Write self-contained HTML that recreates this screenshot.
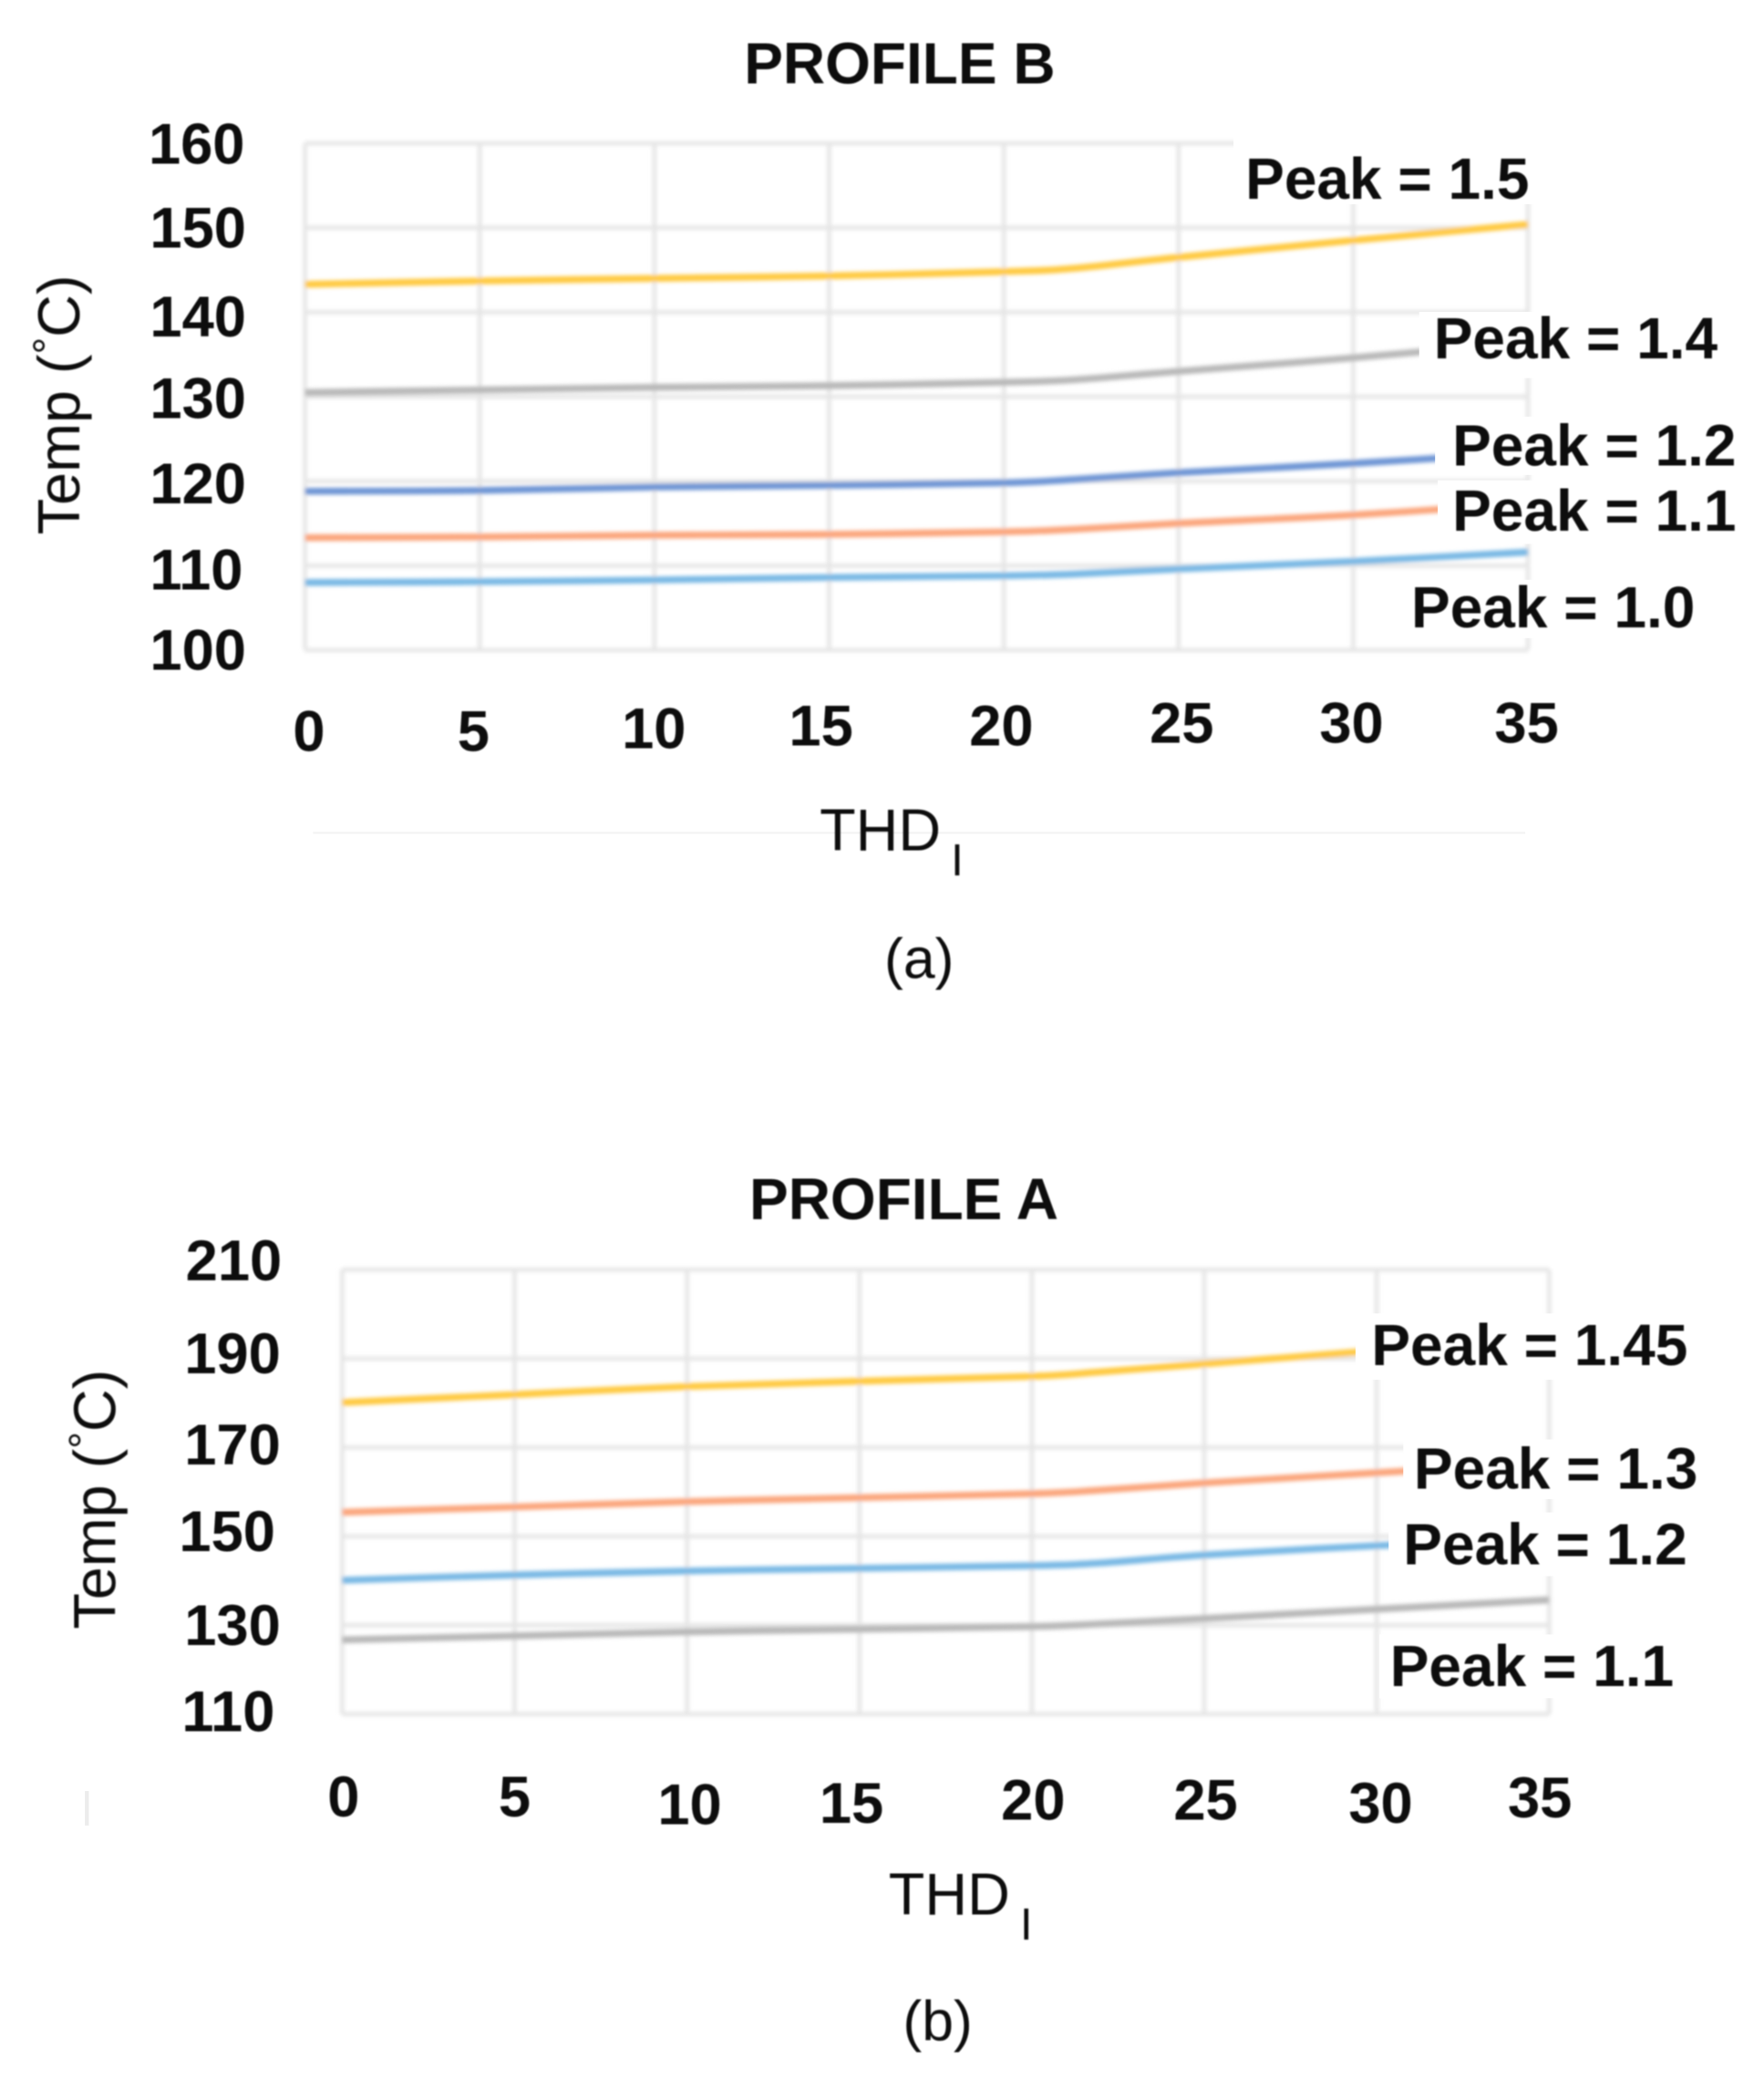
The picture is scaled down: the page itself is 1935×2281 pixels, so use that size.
<!DOCTYPE html>
<html lang="en">
<head>
<meta charset="utf-8">
<title>Profile B and Profile A temperature charts</title>
<style>
  html, body { margin: 0; padding: 0; background: #fff; }
  svg { display: block; }
  text { font-family: "Liberation Sans", sans-serif; fill: #0a0a0a; }
  .tick { font-size: 43.5px; font-weight: 700; }
  .tickx { font-size: 43.5px; font-weight: 700; text-anchor: middle; }
  .peak { font-size: 44px; font-weight: 700; }
  .title { font-size: 44px; font-weight: 700; }
  .axis { font-size: 44.5px; }
  .cap { font-size: 43px; text-anchor: middle; }
</style>
</head>
<body>
<svg xmlns="http://www.w3.org/2000/svg" width="1935" height="2281" viewBox="0 0 1935 2281">
  <defs>
    <filter id="soft" x="-5%" y="-5%" width="110%" height="110%"><feGaussianBlur stdDeviation="1.5"/></filter>
    <filter id="softText" x="-5%" y="-5%" width="110%" height="110%"><feGaussianBlur stdDeviation="0.6"/></filter>
  </defs>
  <g transform="scale(1.4549)">

    <g id="marks-a" filter="url(#soft)"></g>
    <rect x="236" y="627" width="914" height="1.5" fill="#f3f3f3"/>
    <g fill="#fff">
      <rect x="930" y="100" width="238" height="54"/>
      <rect x="1070" y="235" width="235" height="50"/>
      <rect x="1082" y="314" width="230" height="44"/>
      <rect x="1084" y="362" width="228" height="48"/>
      <rect x="1055" y="437" width="230" height="44"/>
    </g>

    <g id="marks-b" filter="url(#soft)"></g>
    <g fill="#fff">
      <rect x="1022" y="990" width="260" height="50"/>
      <rect x="1058" y="1085" width="228" height="45"/>
      <rect x="1047" y="1140" width="234" height="48"/>
      <rect x="1040" y="1232" width="226" height="48"/>
    </g>
    <rect x="64" y="1350" width="3" height="26" fill="#ececec"/>

    <g filter="url(#softText)">
      <text class="title" x="561" y="63">PROFILE B</text>
      <text class="tick" x="112" y="123.5">160</text>
      <text class="tick" x="113" y="186.5">150</text>
      <text class="tick" x="113" y="253.5">140</text>
      <text class="tick" x="113" y="315">130</text>
      <text class="tick" x="113" y="379.5">120</text>
      <text class="tick" x="113" y="444.5">110</text>
      <text class="tick" x="113" y="505">100</text>
      <text class="tickx" x="233" y="566">0</text>
      <text class="tickx" x="357" y="566">5</text>
      <text class="tickx" x="493" y="564">10</text>
      <text class="tickx" x="619" y="562">15</text>
      <text class="tickx" x="755" y="562">20</text>
      <text class="tickx" x="891" y="560">25</text>
      <text class="tickx" x="1019" y="560">30</text>
      <text class="tickx" x="1151" y="560">35</text>
      <text class="peak" x="939" y="150">Peak = 1.5</text>
      <text class="peak" x="1081" y="270">Peak = 1.4</text>
      <text class="peak" x="1095" y="351">Peak = 1.2</text>
      <text class="peak" x="1095" y="400">Peak = 1.1</text>
      <text class="peak" x="1064" y="473">Peak = 1.0</text>
      <text class="axis" transform="translate(60,403) rotate(-90)">Temp (<tspan font-size="32" dy="-13">°</tspan><tspan dy="13">C)</tspan></text>
      <text class="axis" x="618" y="641">THD</text>
      <text x="717" y="660" font-size="34">I</text>
      <text class="cap" x="693" y="737">(a)</text>

      <text class="title" x="565" y="919">PROFILE A</text>
      <text class="tick" x="140" y="965">210</text>
      <text class="tick" x="139" y="1035">190</text>
      <text class="tick" x="139" y="1104">170</text>
      <text class="tick" x="135" y="1169">150</text>
      <text class="tick" x="139" y="1240">130</text>
      <text class="tick" x="137" y="1305">110</text>
      <text class="tickx" x="259" y="1369">0</text>
      <text class="tickx" x="388" y="1369">5</text>
      <text class="tickx" x="520" y="1375">10</text>
      <text class="tickx" x="642" y="1374">15</text>
      <text class="tickx" x="779" y="1371.5">20</text>
      <text class="tickx" x="909" y="1371.5">25</text>
      <text class="tickx" x="1041" y="1374">30</text>
      <text class="tickx" x="1161" y="1370">35</text>
      <text class="peak" x="1034" y="1029">Peak = 1.45</text>
      <text class="peak" x="1066" y="1122">Peak = 1.3</text>
      <text class="peak" x="1058" y="1179">Peak = 1.2</text>
      <text class="peak" x="1048" y="1271">Peak = 1.1</text>
      <text class="axis" transform="translate(87,1228) rotate(-90)">Temp (<tspan font-size="32" dy="-13">°</tspan><tspan dy="13">C)</tspan></text>
      <text class="axis" x="670" y="1443">THD</text>
      <text x="769" y="1462" font-size="34">I</text>
      <text class="cap" x="707" y="1538">(b)</text>
    </g>
  </g>
</svg>
<script>
var thdTicks = [0, 5, 10, 15, 20, 25, 30, 35];
var thdSamples = [0, 5, 10, 15, 20, 22, 25, 30, 35];

var tempTicksB = [100, 110, 120, 130, 140, 150, 160];
var profileBPeak15 = [143.3, 143.7, 144.0, 144.3, 144.8, 145.2, 146.5, 148.5, 150.4];
var profileBPeak14 = [130.5, 130.8, 131.1, 131.3, 131.7, 132.0, 133.0, 134.6, 136.5];
var profileBPeak12 = [118.8, 118.9, 119.3, 119.5, 119.8, 120.2, 121.0, 122.1, 123.4];
var profileBPeak11 = [113.3, 113.4, 113.6, 113.7, 114.0, 114.3, 115.0, 116.0, 117.4];
var profileBPeak10 = [108.0, 108.1, 108.3, 108.6, 108.8, 109.0, 109.6, 110.5, 111.6];

var tempTicksA = [110, 130, 150, 170, 190, 210];
var profileAPeak145 = [180.1, 181.9, 183.7, 184.9, 186.0, 187.0, 188.8, 191.8, 195.0];
var profileAPeak13 = [155.4, 156.6, 157.8, 158.7, 159.6, 160.4, 162.0, 164.3, 166.5];
var profileAPeak12 = [140.1, 141.3, 142.2, 142.8, 143.4, 144.0, 145.8, 147.9, 149.5];
var profileAPeak11 = [126.7, 127.6, 128.5, 129.1, 129.7, 130.3, 131.5, 133.6, 135.7];

var SVGNS = 'http://www.w3.org/2000/svg';

function smoothPath(pts) {
  var d = 'M' + pts[0][0].toFixed(2) + ' ' + pts[0][1].toFixed(2);
  for (var i = 0; i < pts.length - 1; i++) {
    var p0 = pts[Math.max(i - 1, 0)];
    var p1 = pts[i];
    var p2 = pts[i + 1];
    var p3 = pts[Math.min(i + 2, pts.length - 1)];
    var c1x = p1[0] + (p2[0] - p0[0]) / 6;
    var c1y = p1[1] + (p2[1] - p0[1]) / 6;
    var c2x = p2[0] - (p3[0] - p1[0]) / 6;
    var c2y = p2[1] - (p3[1] - p1[1]) / 6;
    d += ' C' + c1x.toFixed(2) + ' ' + c1y.toFixed(2) + ' ' + c2x.toFixed(2) + ' ' + c2y.toFixed(2) + ' ' + p2[0].toFixed(2) + ' ' + p2[1].toFixed(2);
  }
  return d;
}

function drawPanel(groupId, prefix, xScale, yScale, yTicks, seriesList) {
  var group = document.getElementById(groupId);
  var xMin = thdTicks[0];
  var xMax = thdTicks[thdTicks.length - 1];
  var yMin = yTicks[0];
  var yMax = yTicks[yTicks.length - 1];

  yTicks.forEach(function (t) {
    var line = document.createElementNS(SVGNS, 'line');
    line.setAttribute('x1', xScale(xMin));
    line.setAttribute('x2', xScale(xMax));
    line.setAttribute('y1', yScale(t));
    line.setAttribute('y2', yScale(t));
    line.setAttribute('stroke', '#e6e6e6');
    line.setAttribute('stroke-width', '3.2');
    
    
    group.appendChild(line);
  });

  thdTicks.forEach(function (t) {
    var line = document.createElementNS(SVGNS, 'line');
    line.setAttribute('x1', xScale(t));
    line.setAttribute('x2', xScale(t));
    line.setAttribute('y1', yScale(yMax));
    line.setAttribute('y2', yScale(yMin));
    line.setAttribute('stroke', '#e6e6e6');
    line.setAttribute('stroke-width', '3.2');
    
    
    group.appendChild(line);
  });

  seriesList.forEach(function (s) {
    var pts = s.values.map(function (v, i) {
      return [xScale(thdSamples[i]), yScale(v)];
    });
    var path = document.createElementNS(SVGNS, 'path');
    path.setAttribute('d', smoothPath(pts));
    path.setAttribute('fill', 'none');
    path.setAttribute('stroke', s.color);
    path.setAttribute('stroke-width', '5.2');
    path.setAttribute('stroke-linejoin', 'round');
    
    
    group.appendChild(path);
  });
}

function xScaleB(v) { return 230 + v * 922 / 35; }
function yScaleB(v) { return 490 - (v - 100) * 382 / 60; }
function xScaleA(v) { return 258 + v * 910 / 35; }
function yScaleA(v) { return 1292 - (v - 110) * 335 / 100; }

drawPanel('marks-a', 'profile-b', xScaleB, yScaleB, tempTicksB, [
  { name: 'line-peak-1-5', color: '#ffc93f', values: profileBPeak15 },
  { name: 'line-peak-1-4', color: '#b8b8b8', values: profileBPeak14 },
  { name: 'line-peak-1-2', color: '#6d94d4', values: profileBPeak12 },
  { name: 'line-peak-1-1', color: '#fba57b', values: profileBPeak11 },
  { name: 'line-peak-1-0', color: '#78b8e4', values: profileBPeak10 }
]);

drawPanel('marks-b', 'profile-a', xScaleA, yScaleA, tempTicksA, [
  { name: 'line-peak-1-45', color: '#ffc93f', values: profileAPeak145 },
  { name: 'line-peak-1-3', color: '#fba57b', values: profileAPeak13 },
  { name: 'line-peak-1-2-a', color: '#78b8e4', values: profileAPeak12 },
  { name: 'line-peak-1-1-a', color: '#b8b8b8', values: profileAPeak11 }
]);
</script>
</body>
</html>
